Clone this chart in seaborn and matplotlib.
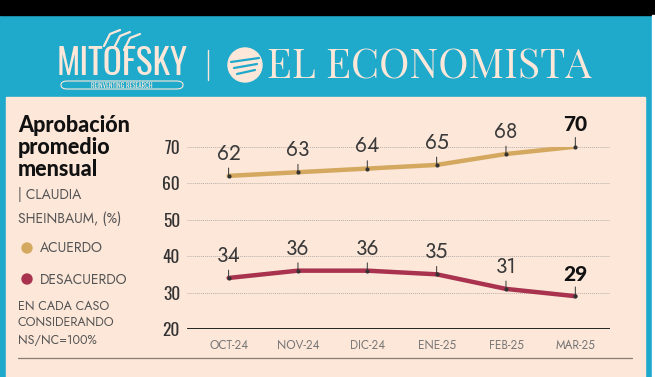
import numpy as np
import pandas as pd
import seaborn as sns
import matplotlib
matplotlib.use("Agg")
import matplotlib.pyplot as plt
from matplotlib import font_manager
from matplotlib.patches import Rectangle, Circle, FancyBboxPatch

# ---- data ----
months = ["OCT-24", "NOV-24", "DIC-24", "ENE-25", "FEB-25", "MAR-25"]
acuerdo = [62, 63, 64, 65, 68, 70]
desacuerdo = [34, 36, 36, 35, 31, 29]
yticks = [20, 30, 40, 50, 60, 70]

BLUE = "#1fa9cb"
CREAM = "#fce7d9"
TAN = "#d4a95f"
CRIMSON = "#a9334f"
TXT = "#555555"

_avail = {f.name for f in font_manager.fontManager.ttflist}

def pick(*cands):
    for c in cands:
        if c in _avail:
            return [c, "DejaVu Sans"]
    return ["DejaVu Sans"]

F_COND = pick("Oswald", "Sofia Sans Condensed", "Saira SemiCondensed", "Roboto Condensed")
F_GEO = pick("Jost", "League Spartan", "Lato")
F_BOLD = pick("Lato", "DejaVu Sans")
F_SERIF = pick("Playfair Display", "Bodoni Moda", "Liberation Serif", "DejaVu Serif")

sns.set_theme(style="white")
plt.rcParams["font.family"] = F_GEO

W, H = 655, 377
fig = plt.figure(figsize=(W / 100, H / 100), dpi=100)
fig.patch.set_facecolor(BLUE)

def fx(x):
    return x / W

def fy(y):
    return 1 - y / H

def pix_circle(x, y, r, **kw):
    return Circle((x / 100, (H - y) / 100), r / 100, transform=fig.dpi_scale_trans, **kw)

# background pieces
fig.add_artist(Rectangle((0, fy(15)), 1, 15 / H, transform=fig.transFigure, color="black", zorder=0))
fig.add_artist(Rectangle((fx(6), 0), (645 - 6) / W, fy(97), transform=fig.transFigure, color=CREAM, zorder=0))
fig.add_artist(Rectangle((fx(652), 0), 3 / W, fy(15), transform=fig.transFigure, color="white", zorder=0))

# ---- header ----
fig.text(fx(122), fy(64), "MITOFSKY", family=F_COND, weight="bold",
         fontsize=25.5, color=CREAM, ha="center", va="center")
fig.add_artist(FancyBboxPatch((fx(61), fy(89)), (183 - 61) / W, 8 / H, boxstyle="round,pad=0,rounding_size=0.01",
                              transform=fig.transFigure, fill=False, ec=CREAM, lw=0.8))
fig.text(fx(122), fy(85), "REINVENTING RESEARCH", family=F_COND,
         fontsize=5, color=CREAM, ha="center", va="center", weight="bold")
# stylised birds mark
for dx, dy in [(0, 0), (10, 2), (20, 4)]:
    xs = np.array([104, 110, 120]) + dx
    ys = np.array([46, 34, 30]) + dy
    fig.add_artist(plt.Line2D([fx(v) for v in xs], [fy(v) for v in ys], transform=fig.transFigure,
                              color=CREAM, lw=1.6, solid_capstyle="round"))
fig.add_artist(plt.Line2D([fx(208), fx(208)], [fy(50), fy(80)], transform=fig.transFigure, color=CREAM, lw=1))
# circle logo
fig.add_artist(pix_circle(245, 65, 17, color=CREAM))
for k, yy in enumerate([62, 68, 74]):
    fig.add_artist(plt.Line2D([fx(231 + k * 3), fx(259 - k * 2)], [fy(yy), fy(yy - 4)], transform=fig.transFigure,
                              color=BLUE, lw=1.6))
fig.text(fx(429), fy(66), "EL ECONOMISTA", family=F_SERIF, fontsize=29.5,
         color=CREAM, ha="center", va="center")

# ---- left panel text ----
for i, line in enumerate(["Aprobación", "promedio", "mensual"]):
    fig.text(fx(18), fy(125 + i * 22.5), line, family=F_BOLD, fontsize=15.5, weight="black", color="#111111",
             va="center")
fig.text(fx(18), fy(195), "| CLAUDIA", fontsize=10, color=TXT, va="center")
fig.text(fx(18), fy(218), "SHEINBAUM, (%)", fontsize=10, color=TXT, va="center")
fig.add_artist(pix_circle(27, 248, 5, color=TAN))
fig.text(fx(40), fy(248), "ACUERDO", fontsize=10, color=TXT, va="center")
fig.add_artist(pix_circle(27, 279, 5, color=CRIMSON))
fig.text(fx(40), fy(279), "DESACUERDO", fontsize=10, color=TXT, va="center")
for i, line in enumerate(["EN CADA CASO", "CONSIDERANDO", "NS/NC=100%"]):
    fig.text(fx(18), fy(307 + i * 16.5), line, fontsize=9, color=TXT, va="center")

fig.add_artist(plt.Line2D([fx(18), fx(632)], [fy(358), fy(358)], transform=fig.transFigure, color="#8c7c72", lw=0.9))

# ---- chart ----
ax = fig.add_axes([fx(187), fy(329), (610 - 187) / W, (329 - 146.7) / H])
ax.set_facecolor("none")
df = pd.DataFrame({
    "x": list(range(len(months))) * 2,
    "valor": acuerdo + desacuerdo,
    "serie": ["Acuerdo"] * len(months) + ["Desacuerdo"] * len(months),
})
sns.lineplot(data=df, x="x", y="valor", hue="serie", palette={"Acuerdo": TAN, "Desacuerdo": CRIMSON},
             lw=3.2, legend=False, ax=ax, zorder=3)

ax.set_xlim(-0.6, 5.5)
ax.set_ylim(20, 70)
for t in yticks[1:]:
    ax.axhline(t, color="#b9b0aa", lw=0.7, ls=(0, (1, 1)), zorder=1)
ax.axhline(20, color="#111111", lw=2, zorder=2)
for s in ax.spines.values():
    s.set_visible(False)
ax.set_yticks(yticks)
ax.set_yticklabels([str(t) for t in yticks], family=F_COND, fontsize=12.5, color="#333333")
ax.set_xticks(range(len(months)))
ax.set_xticklabels(months, fontsize=8.5, color="#777777")
ax.tick_params(axis="y", length=0, pad=5)
ax.tick_params(axis="x", length=0, pad=7)
ax.set_xlabel("")
ax.set_ylabel("")

for vals in (acuerdo, desacuerdo):
    for i, v in enumerate(vals):
        last = i == len(vals) - 1
        ax.annotate(str(v), xy=(i, v), xytext=(0, 8 if not last else 9), textcoords="offset points",
                    ha="center", va="bottom", fontsize=15,
                    family=F_BOLD if last else F_GEO, weight="black" if last else "normal",
                    color="#111111" if last else "#3a3a3a", annotation_clip=False,
                    arrowprops=dict(arrowstyle="-", color="#333333", lw=0.7, shrinkA=0, shrinkB=0))
        ax.plot(i, v, "o", ms=2, color="#333333", zorder=4, clip_on=False)

fig.savefig("out.png", dpi=100, facecolor=fig.get_facecolor())
